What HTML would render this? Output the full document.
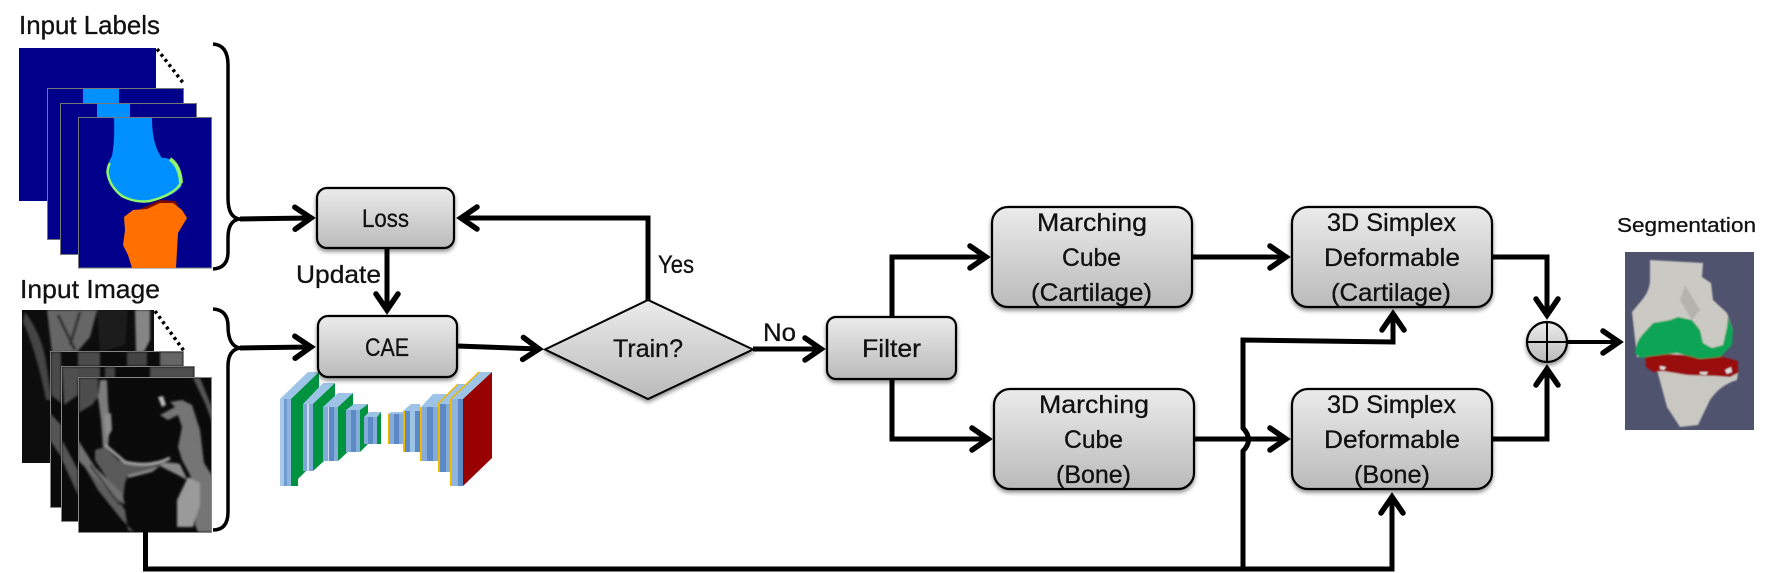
<!DOCTYPE html>
<html><head><meta charset="utf-8"><style>html,body{margin:0;padding:0;background:#fff}svg{display:block}text{font-family:"Liberation Sans",sans-serif;fill:#111;stroke:#111;stroke-width:.3px}</style></head><body>
<svg width="1774" height="573" viewBox="0 0 1774 573" xmlns="http://www.w3.org/2000/svg">
<defs>
<linearGradient id="g" x1="0" y1="0" x2="0" y2="1"><stop offset="0" stop-color="#ebebeb"/><stop offset="1" stop-color="#bababa"/></linearGradient>
<filter id="sh" x="-10%" y="-10%" width="120%" height="125%"><feDropShadow dx="0" dy="2.5" stdDeviation="2" flood-color="#000" flood-opacity=".45"/></filter>
<filter id="b1"><feGaussianBlur stdDeviation="1"/></filter>
<filter id="b2"><feGaussianBlur stdDeviation=".7"/></filter>
<marker id="a" markerUnits="userSpaceOnUse" markerWidth="50" markerHeight="50" refX="0" refY="0" viewBox="-25 -25 50 50" orient="auto" overflow="visible"><path d="M-16,-11 L0,0 L-16,11" fill="none" stroke="#000" stroke-width="5.500" stroke-linecap="round"/></marker>
<clipPath id="m1"><rect x="22" y="310" width="132" height="153"/></clipPath>
<clipPath id="m2"><rect x="50" y="351" width="133" height="156"/></clipPath>
<clipPath id="m3"><rect x="61" y="366" width="133" height="155"/></clipPath>
<clipPath id="m4"><rect x="78" y="377" width="133" height="155"/></clipPath>
<clipPath id="k"><rect x="1625" y="252" width="129" height="178"/></clipPath>
</defs>

<!-- input labels -->
<text x="19" y="34" font-size="26" textLength="141" lengthAdjust="spacingAndGlyphs">Input Labels</text>
<rect x="19" y="48" width="137" height="153" fill="#00008a"/>
<path d="M157 49L184 84" stroke="#000" stroke-width="3.500" stroke-dasharray="3 3.500" fill="none"/>
<rect x="47.500" y="88.500" width="136" height="151" fill="#00008a" stroke="#777"/>
<rect x="83" y="89" width="36" height="15" fill="#0090ff"/>
<rect x="60.500" y="103.500" width="136" height="151" fill="#00008a" stroke="#777"/>
<rect x="97" y="104" width="33" height="14" fill="#0090ff"/>
<rect x="78.500" y="117.500" width="133" height="150.500" fill="#00008a" stroke="#777"/>
<path d="M114 118H152Q152 145 162 158Q170 157 176 165Q183 176 181 187Q172 197 150 202Q135 204 122 197Q108 187 107 172Q108 162 112 156Q115 140 114 118Z" fill="#0090ff"/>
<path d="M170 159Q180 166 181 183" fill="none" stroke="#90f56a" stroke-width="4"/>
<path d="M181 183Q174 195 150 201Q135 203 122 196Q109 186 107.500 172Q108 166 110 163" fill="none" stroke="#90f56a" stroke-width="2.500"/>
<path d="M128 214L147 206L160 200L175 201L179 206L163 203L147 209L133 211Z" fill="#7a0a00"/>
<path d="M124 217L133 210L147 209L160 203L173 203L182 210L187 218L178 233L176 268H132L128 255L123 245L125 230Z" fill="#ff7000"/>
<!-- input image -->
<text x="20" y="298" font-size="26" textLength="140" lengthAdjust="spacingAndGlyphs">Input Image</text>
<rect x="22" y="310" width="132" height="153" fill="#0d0d0d"/>
<g clip-path="url(#m1)" filter="url(#b1)">
<path d="M47 310H97L90 337L77 352H52Z" fill="#666"/>
<path d="M25 312Q42 335 46 362L52 400L46 400Q36 350 23 322Z" fill="#444"/>
<path d="M135 310H150V340L144 352H136Z" fill="#858585"/>
<path d="M58 315L75 350M80 312L70 345" stroke="#333" stroke-width="3" fill="none"/>
<path d="M97 310H128L125 345L100 352Z" fill="#1e1e1e"/>
</g>
<path d="M155 311L184 351" stroke="#000" stroke-width="3.500" stroke-dasharray="3 3.500" fill="none"/>
<rect x="50.500" y="351.500" width="133" height="156" fill="#0b0b0b" stroke="#888"/>
<g clip-path="url(#m2)" filter="url(#b1)">
<path d="M51 352H61V403L51 395Z" fill="#4a4a4a"/>
<path d="M50 413L61 425V457L50 440Z" fill="#555"/>
<path d="M78 352H100V366H78Z" fill="#4c4c4c"/>
<path d="M127 352H147V366H127Z" fill="#444"/>
<path d="M160 352H183V366H160Z" fill="#666"/>
</g>
<rect x="61.500" y="366.500" width="133" height="155" fill="#0b0b0b" stroke="#888"/>
<g clip-path="url(#m3)" filter="url(#b1)">
<path d="M62 367H78V395L64 405Z" fill="#505050"/>
<path d="M62 440L78 470V495L62 460Z" fill="#555"/>
<path d="M78 367H100V378H78Z" fill="#4c4c4c"/>
<path d="M105 367H115V378H105Z" fill="#444"/>
<path d="M150 367H194V378H150Z" fill="#505050"/>
</g>
<rect x="78.500" y="377.500" width="133" height="155" fill="#0a0a0a" stroke="#888"/>
<g clip-path="url(#m4)" filter="url(#b1)">
<path d="M79 378H98L98 397L92 405L83 410L79 413Z" fill="#4d4d4d"/>
<path d="M100 380H107L108 403L110 423L108 447L103 447L101 420L98 397Z" fill="#7c7c7c"/>
<path d="M104 415L111 413L112 430L106 440Z" fill="#8d8d8d"/>
<path d="M95 450L105 447L118 460L132 465L153 463L165 462L178 463L187 477L175 467L158 465L152 470L128 475L125 483L123 500L108 480L95 460Z" fill="#5a5a5a"/>
<path d="M105 445L125 462Q150 468 170 458" fill="none" stroke="#a0a0a0" stroke-width="3"/>
<path d="M128 475L152 469L165 463L180 464L187 480L178 475L160 466L152 472L128 478Z" fill="#8a8a8a"/>
<path d="M78 447L90 465L115 495L125 510L128 530L134 532L122 520L98 490L78 455Z" fill="#5d5d5d"/>
<path d="M78 440L95 467L122 493L125 505L118 500L95 478L78 460Z" fill="#707070"/>
<path d="M90 465L120 505" stroke="#222" stroke-width="1.500" fill="none"/>
<path d="M170 402L182 400L192 405L200 430L204 463L215 480V532H198L195 525L198 503L190 475L182 460L178 447L182 427L178 415L168 420L160 415L175 407Z" fill="#757575"/>
<path d="M188 477L200 483L200 505L193 527L177 527L177 500Z" fill="#9a9a9a"/>
<path d="M193 378H200L215 415V430L205 403Z" fill="#555"/>
<path d="M158 397L163 396L166 405L162 407Z" fill="#bbb"/>
</g>

<!-- braces -->
<g fill="none" stroke="#000" stroke-width="3.500">
<path d="M213 44Q228 45 228 65V198Q228 218 240 219Q228 220 228 238V252Q228 268 213 269"/>
<path d="M213 309Q228 310 228 326Q228 346 240 348Q228 350 228 366V512Q228 530 213 530"/>
</g>

<!-- CAE network -->
<g>
<path d="M280 399L308 372H319L291 399Z" fill="#9dc3e6"/><path d="M291 399H298V486H291Z" fill="#00933f"/>
<path d="M291 399L319 372V458L291 486Z" fill="#00933f"/>
<path d="M280 399h4v87h-4z" fill="#a9c7e8"/><path d="M284 399h3v87h-3z" fill="#6f9bd1"/><path d="M287 399h4v87h-4z" fill="#8fb4de"/>
<path d="M303 404L323 383H335L313 404Z" fill="#9dc3e6"/><path d="M313 404L335 383V451L313 471Z" fill="#00933f"/>
<path d="M303 404h4v67h-4z" fill="#7fa8d8"/><path d="M307 404h2v67h-2z" fill="#c9dcf0"/><path d="M309 404h4v67h-4z" fill="#7fa8d8"/>
<path d="M323 407L338 393H353L338 407Z" fill="#9dc3e6"/><path d="M338 407L353 393V447L338 461Z" fill="#00933f"/>
<path d="M323 407h5v54h-5z" fill="#85acd9"/><path d="M328 407h1v54h-1z" fill="#c9dcf0"/><path d="M329 407h5v54h-5z" fill="#5b8ac6"/><path d="M334 407h4v54h-4z" fill="#85acd9"/>
<path d="M346 410L354 404H368L360 410Z" fill="#9dc3e6"/><path d="M360 410L368 404V444L360 452Z" fill="#00933f"/>
<path d="M346 410h5v42h-5z" fill="#85acd9"/><path d="M351 410h5v42h-5z" fill="#5b8ac6"/><path d="M356 410h4v42h-4z" fill="#85acd9"/>
<path d="M364 417L369 412H381L377 417Z" fill="#9dc3e6"/><path d="M377 417L381 412V444H377Z" fill="#00933f"/>
<path d="M364 417h4v27h-4z" fill="#85acd9"/><path d="M368 417h5v27h-5z" fill="#5b8ac6"/><path d="M373 417h4v27h-4z" fill="#85acd9"/>
<path d="M388 414L391 412H403V414Z" fill="#9dc3e6"/><path d="M388 414h1v30h-1z" fill="#f2b800"/>
<path d="M389 414h5v30h-5z" fill="#85acd9"/><path d="M394 414h5v30h-5z" fill="#5b8ac6"/><path d="M399 414h4v30h-4z" fill="#85acd9"/>
<path d="M403 411L411 404H420V411Z" fill="#9dc3e6"/><path d="M403 411h2v41h-2z" fill="#f2b800"/>
<path d="M405 411h5v41h-5z" fill="#5b8ac6"/><path d="M410 411h5v41h-5z" fill="#9dc3e6"/><path d="M415 411h5v41h-5z" fill="#5b8ac6"/>
<path d="M421 407L433 394H447L438 407Z" fill="#9dc3e6"/><path d="M420 407h2v54h-2z" fill="#f2b800"/>
<path d="M422 407h5v54h-5z" fill="#85acd9"/><path d="M427 407h6v54h-6z" fill="#5b8ac6"/><path d="M433 407h5v54h-5z" fill="#85acd9"/>
<path d="M439 404L458 384H466L451 404Z" fill="#9dc3e6"/><path d="M438 404L458 384" stroke="#f2b800" stroke-width="1.500"/><path d="M438 404h2.500v68h-2.500z" fill="#f2b800"/>
<path d="M440 404h6v68h-6z" fill="#5b8ac6"/><path d="M446 404h5v68h-5z" fill="#85acd9"/>
<path d="M451 399L479 372H492L463 399Z" fill="#9dc3e6"/><path d="M451 399L479 372" stroke="#f2b800" stroke-width="1.500"/>
<path d="M463 399L492 372V458L463 486Z" fill="#990000"/>
<path d="M450 399h2v87h-2z" fill="#f2b800"/><path d="M452 399h6v87h-6z" fill="#8fb4de"/><path d="M458 399h5v87h-5z" fill="#5b8ac6"/>
</g>

<!-- connectors -->
<g fill="none" stroke="#000" stroke-width="5" stroke-linejoin="miter">
<path d="M240 219L311 218" marker-end="url(#a)"/>
<path d="M240 348L311 347" marker-end="url(#a)"/>
<path d="M648 300V218H461" marker-end="url(#a)"/>
<path d="M387 248V310" marker-end="url(#a)"/>
<path d="M457 346L539 349" marker-end="url(#a)"/>
<path d="M753 349H821" marker-end="url(#a)"/>
<path d="M892 317V257H986" marker-end="url(#a)"/>
<path d="M892 379V439H988" marker-end="url(#a)"/>
<path d="M1192 257H1286" marker-end="url(#a)"/>
<path d="M1194 439H1286" marker-end="url(#a)"/>
<path d="M145.500 532V569H1392V497" marker-end="url(#a)"/>
<path d="M1243 569V451Q1254 440 1243 428V340L1393 342V314" marker-end="url(#a)"/>
<path d="M1492 257H1547V315" marker-end="url(#a)"/>
<path d="M1492 439H1547V369" marker-end="url(#a)"/>
<path d="M1567 342H1619" marker-end="url(#a)" stroke-width="4"/>
</g>

<!-- boxes -->
<g fill="url(#g)" stroke="#000" stroke-width="2.200" filter="url(#sh)">
<rect x="317" y="188" width="137" height="60" rx="10"/>
<rect x="318" y="316" width="139" height="61" rx="10"/>
<path d="M545 349.500L648 300L753 349.500L648 399Z" stroke-width="2"/>
<rect x="827" y="317" width="129" height="62" rx="9"/>
<rect x="992" y="207" width="200" height="100" rx="16"/>
<rect x="994" y="389" width="200" height="100" rx="16"/>
<rect x="1292" y="207" width="200" height="100" rx="16"/>
<rect x="1292" y="389" width="200" height="100" rx="16"/>
<circle cx="1547" cy="342" r="20"/>
</g>
<path d="M1527 342H1567M1547 322V362" stroke="#000" stroke-width="2" fill="none"/>

<!-- labels -->
<g font-size="25">
<text x="362" y="227" textLength="47" lengthAdjust="spacingAndGlyphs">Loss</text>
<text x="365" y="356" textLength="44" lengthAdjust="spacingAndGlyphs">CAE</text>
<text x="296" y="283" textLength="85" lengthAdjust="spacingAndGlyphs">Update</text>
<text x="613" y="357" textLength="70" lengthAdjust="spacingAndGlyphs">Train?</text>
<text x="658" y="273" textLength="36" lengthAdjust="spacingAndGlyphs">Yes</text>
<text x="763" y="341" textLength="33" lengthAdjust="spacingAndGlyphs">No</text>
<text x="862" y="357" textLength="59" lengthAdjust="spacingAndGlyphs">Filter</text>
<text x="1037" y="231" textLength="110" lengthAdjust="spacingAndGlyphs">Marching</text>
<text x="1062" y="266" textLength="59" lengthAdjust="spacingAndGlyphs">Cube</text>
<text x="1031" y="301" textLength="121" lengthAdjust="spacingAndGlyphs">(Cartilage)</text>
<text x="1039" y="413" textLength="110" lengthAdjust="spacingAndGlyphs">Marching</text>
<text x="1064" y="448" textLength="59" lengthAdjust="spacingAndGlyphs">Cube</text>
<text x="1056" y="483" textLength="75" lengthAdjust="spacingAndGlyphs">(Bone)</text>
<text x="1327" y="231" textLength="129" lengthAdjust="spacingAndGlyphs">3D Simplex</text>
<text x="1324" y="266" textLength="136" lengthAdjust="spacingAndGlyphs">Deformable</text>
<text x="1331" y="301" textLength="120" lengthAdjust="spacingAndGlyphs">(Cartilage)</text>
<text x="1327" y="413" textLength="129" lengthAdjust="spacingAndGlyphs">3D Simplex</text>
<text x="1324" y="448" textLength="136" lengthAdjust="spacingAndGlyphs">Deformable</text>
<text x="1354" y="483" textLength="76" lengthAdjust="spacingAndGlyphs">(Bone)</text>
</g>
<text x="1617" y="232" font-size="20" textLength="139" lengthAdjust="spacingAndGlyphs">Segmentation</text>

<!-- knee -->
<rect x="1625" y="252" width="129" height="178" fill="#50536e"/>
<g filter="url(#b2)" clip-path="url(#k)">
<path d="M1650 260L1703 263L1702 277L1711 283L1713 300L1727 313L1733 330L1731 343L1720 357L1637 357L1632 312L1642 300Q1650 290 1650 280Z" fill="#cbc9c3"/>
<path d="M1657 370L1738 373L1737 380Q1720 385 1710 400L1698 425L1680 427L1667 407Z" fill="#c9c7c1"/>
<path d="M1685 285L1700 310L1692 320L1680 300Z" fill="#b5b3ae"/>
<path d="M1645 353L1685 355L1720 356L1738 361L1738 373L1730 377L1716 376L1687 375L1663 371L1653 372L1646 367Z" fill="#99090f"/>
<path d="M1635 353Q1636 342 1642 335L1653 323L1670 320L1678 317L1692 320L1700 330L1703 343L1712 348L1723 345L1727 327L1728 317L1733 330L1732 345L1720 357L1700 359L1677 353L1653 356L1640 358Z" fill="#0aa555"/>
<path d="M1725 370l6-3 1 5-5 2zM1700 372l8 0-2 3-6-1zM1660 366l6 1-2 3-4-1z" fill="#ddd"/>
</g>
</svg>
</body></html>
